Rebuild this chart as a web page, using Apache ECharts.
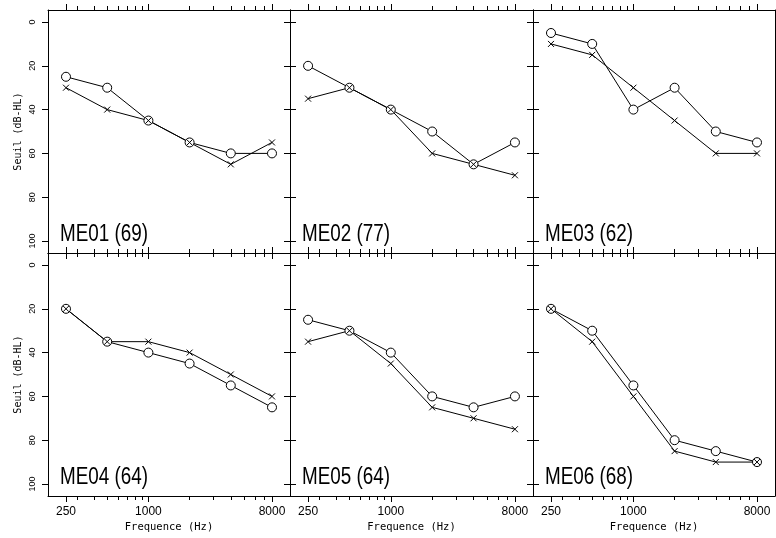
<!DOCTYPE html>
<html>
<head>
<meta charset="utf-8">
<script src="https://cdn.jsdelivr.net/npm/echarts@6/dist/echarts.min.js"></script>
<style>
  html, body { margin: 0; padding: 0; background: #fff; }
  #chart { width: 776px; height: 538px; }
</style>
</head>
<body>
<div id="chart"></div>
<script>
// Audiometric frequencies (Hz) and tick values
const frequencies = [250, 500, 1000, 2000, 4000, 8000];
const freqMajorTicks = [250, 1000, 8000];
const freqMinorTicks = [300, 400, 500, 600, 700, 800, 900, 2000, 3000, 4000, 5000, 6000, 7000];
const thresholdTicks = [0, 20, 40, 60, 80, 100];

// Panel labels: subject (age)
const panelNames = ['ME01 (69)', 'ME02 (77)', 'ME03 (62)', 'ME04 (64)', 'ME05 (64)', 'ME06 (68)'];

// Thresholds in dB-HL, "o" curve
const me01Circle = [25, 30, 45, 55, 60, 60];
const me02Circle = [20, 30, 40, 50, 65, 55];
const me03Circle = [5, 10, 40, 30, 50, 55];
const me04Circle = [20, 35, 40, 45, 55, 65];
const me05Circle = [25, 30, 40, 60, 65, 60];
const me06Circle = [20, 30, 55, 80, 85, 90];

// Thresholds in dB-HL, "x" curve
const me01Cross = [30, 40, 45, 55, 65, 55];
const me02Cross = [35, 30, 40, 60, 65, 70];
const me03Cross = [10, 15, 30, 45, 60, 60];
const me04Cross = [20, 35, 35, 40, 50, 60];
const me05Cross = [35, 30, 45, 65, 70, 75];
const me06Cross = [20, 35, 60, 85, 90, 90];

const circleCurves = [me01Circle, me02Circle, me03Circle, me04Circle, me05Circle, me06Circle];
const crossCurves = [me01Cross, me02Cross, me03Cross, me04Cross, me05Cross, me06Cross];

// Panel layout (2 rows x 3 columns, shared borders)
const colLeft = [48, 290, 533];
const colWidth = [242, 243, 242];
const rowTop = [10, 253];
const rowHeight = 243;

const freqMin = 184.7, freqMax = 10830;
const dbMin = -5.5, dbMax = 105.5;

const CROSS = 'path://M0,0L10,10M10,0L0,10';
const monoFont = "'DejaVu Sans Mono', 'Liberation Mono', monospace";
const sansFont = "'Liberation Sans', Arial, sans-serif";

const grids = [], xAxes = [], yAxes = [], series = [], graphics = [];

function xAxisDef(gridIndex, position, ticks, len, showLine, withLabels) {
  return {
    type: 'log', logBase: 10, gridIndex, position,
    min: freqMin, max: freqMax,
    axisLine: { show: showLine, onZero: false, lineStyle: { color: '#000', width: 1 } },
    axisTick: { show: true, inside: false, length: len, customValues: ticks,
                lineStyle: { color: '#000', width: 1 } },
    axisLabel: { show: withLabels, customValues: ticks, margin: 10,
                 fontSize: 12, fontFamily: sansFont, color: '#000',
                 formatter: v => String(Math.round(v)) },
    splitLine: { show: false }, minorTick: { show: false }, minorSplitLine: { show: false },
    name: withLabels ? 'Frequence (Hz)' : '',
    nameLocation: 'middle', nameGap: 26,
    nameTextStyle: { fontSize: 10.5, fontFamily: monoFont, color: '#000' }
  };
}

function yAxisDef(gridIndex, position, withLabels) {
  return {
    type: 'value', gridIndex, position, inverse: true,
    min: dbMin, max: dbMax,
    axisLine: { show: true, onZero: false, lineStyle: { color: '#000', width: 1 } },
    axisTick: { show: true, inside: false, length: 6, customValues: thresholdTicks,
                lineStyle: { color: '#000', width: 1 } },
    axisLabel: { show: withLabels, customValues: thresholdTicks, rotate: 90, margin: 11,
                 fontSize: 9, fontFamily: sansFont, color: '#000' },
    splitLine: { show: false },
    name: withLabels ? 'Seuil (dB-HL)' : '',
    nameLocation: 'middle', nameGap: 25,
    nameTextStyle: { fontSize: 10, fontFamily: monoFont, color: '#000' }
  };
}

for (let i = 0; i < 6; i++) {
  const r = Math.floor(i / 3), c = i % 3;
  grids.push({ left: colLeft[c], top: rowTop[r], width: colWidth[c], height: rowHeight,
               containLabel: false });
  const bottomLabels = r === 1;
  xAxes.push(xAxisDef(i, 'bottom', freqMajorTicks, 6, true, bottomLabels));
  xAxes.push(xAxisDef(i, 'bottom', freqMinorTicks, 4, false, false));
  xAxes.push(xAxisDef(i, 'top', freqMajorTicks, 6, true, false));
  xAxes.push(xAxisDef(i, 'top', freqMinorTicks, 4, false, false));
  yAxes.push(yAxisDef(i, 'left', c === 0));
  yAxes.push(yAxisDef(i, 'right', false));

  // open circles: white fill, thin black outline
  series.push({
    type: 'line', xAxisIndex: 4 * i, yAxisIndex: 2 * i,
    data: frequencies.map((f, k) => [f, circleCurves[i][k]]),
    symbol: 'circle', symbolSize: 9,
    lineStyle: { color: '#000', width: 1 },
    itemStyle: { color: '#fff', borderColor: '#000', borderWidth: 1 },
    silent: true, animation: false
  });
  series.push({
    type: 'line', xAxisIndex: 4 * i, yAxisIndex: 2 * i,
    data: frequencies.map((f, k) => [f, crossCurves[i][k]]),
    symbol: CROSS, symbolSize: 6,
    lineStyle: { color: '#000', width: 1 },
    itemStyle: { color: '#000', borderColor: '#000', borderWidth: 1 },
    silent: true, animation: false
  });

  graphics.push({
    type: 'text', x: colLeft[c] + 12, y: rowTop[r] + 225, scaleX: 0.82,
    silent: true,
    style: { text: panelNames[i], fontSize: 23, fontFamily: sansFont,
             fill: '#000', verticalAlign: 'middle', align: 'left' }
  });
}

const chart = echarts.init(document.getElementById('chart'), null,
                           { renderer: 'canvas', devicePixelRatio: 1 });
chart.setOption({
  backgroundColor: '#fff',
  animation: false,
  grid: grids,
  xAxis: xAxes,
  yAxis: yAxes,
  series: series,
  graphic: graphics
});
</script>
</body>
</html>
